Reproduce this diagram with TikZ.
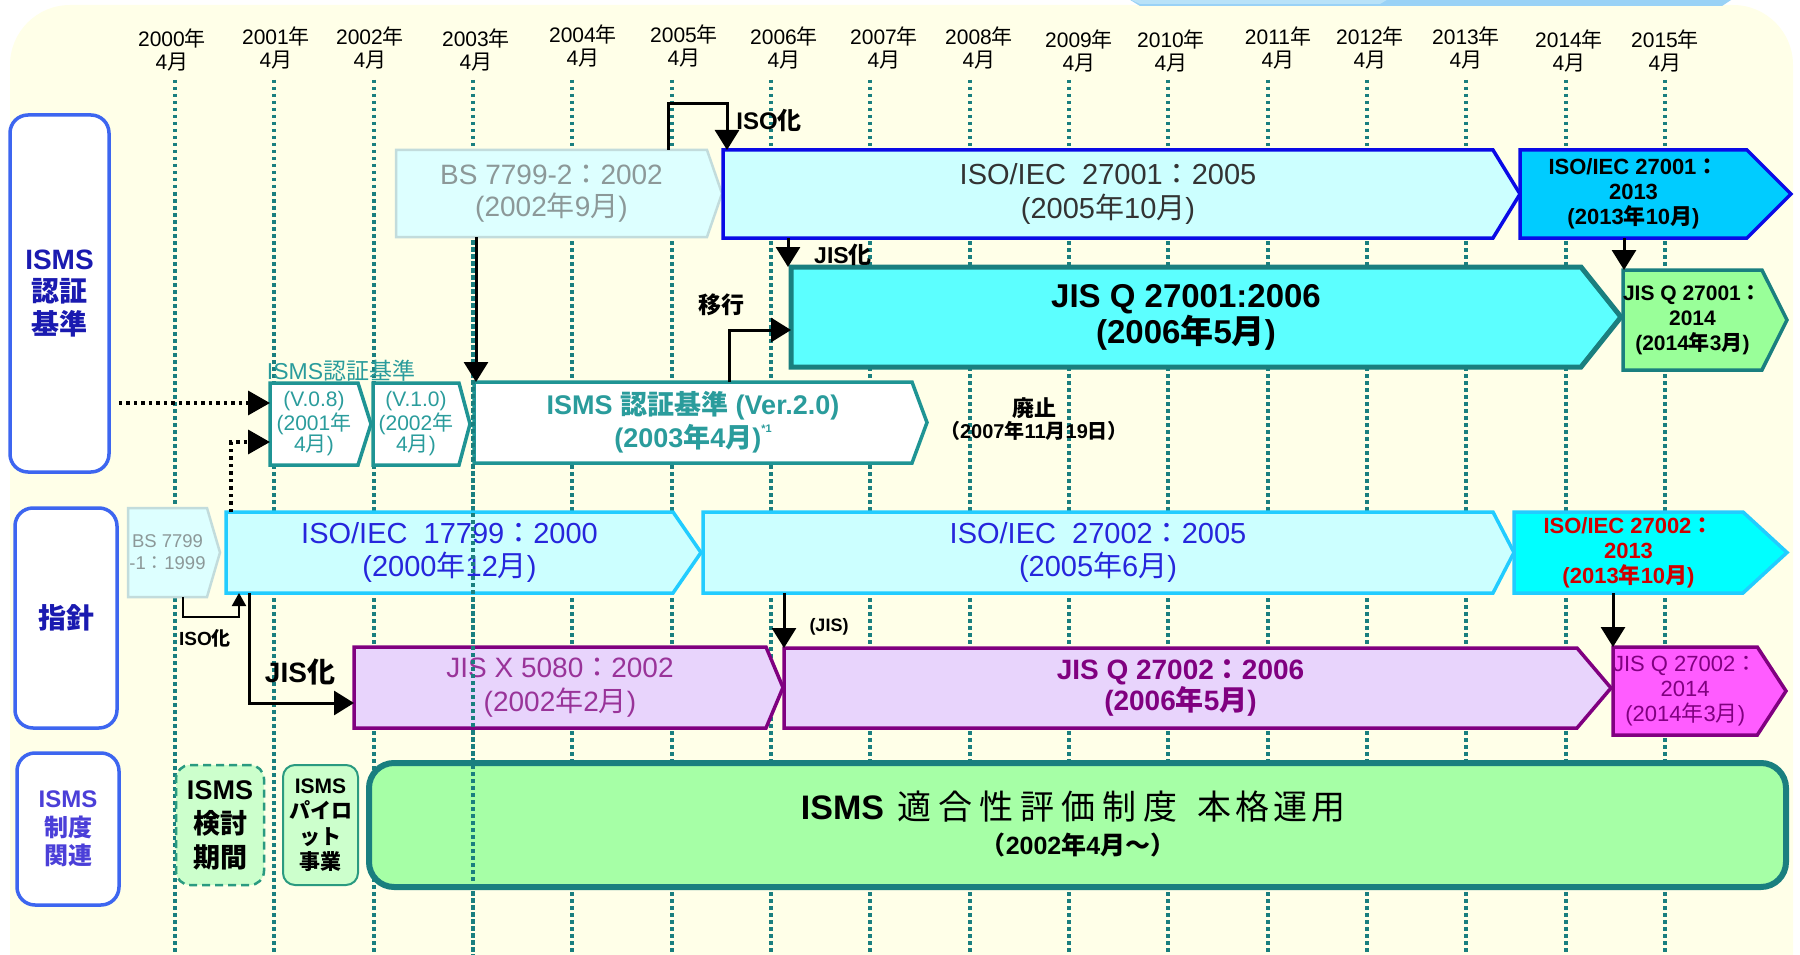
\documentclass[tikz,border=0pt]{standalone}
\usepackage{fontspec}
\setmainfont{Liberation Sans}
\newfontfamily\jpf{Noto Sans CJK JP}
\newcommand\J[1]{{\jpf #1}}
\newcommand\fsz[2]{\fontsize{#1}{#2}\selectfont}
\newcommand\ks[2]{\makebox[#1][c]{\jpf\mdseries #2}}
\usetikzlibrary{arrows.meta}
\pgfdeclarelayer{bgl}
\pgfdeclarelayer{gridl}
\pgfdeclarelayer{shapel}
\pgfsetlayers{bgl,gridl,shapel,main}

\definecolor{bgy}{HTML}{FFFFE8}
\definecolor{gridc}{HTML}{1A7F7F}
\definecolor{catb}{HTML}{3D66F0}
\definecolor{catt}{HTML}{1A1AB0}
\definecolor{catt2}{HTML}{4B3FD8}
\definecolor{bsfill}{HTML}{DDFFFF}
\definecolor{bsdraw}{HTML}{C2DCDC}
\definecolor{bstext}{HTML}{8C9898}
\definecolor{isofill}{HTML}{CCFFFF}
\definecolor{isoblue}{HTML}{0A0AE6}
\definecolor{darktext}{HTML}{333333}
\definecolor{iso13fill}{HTML}{00CCFF}
\definecolor{jisqfill}{HTML}{5CFFFF}
\definecolor{tealb}{HTML}{1A7F7F}
\definecolor{ltgreen}{HTML}{99FF99}
\definecolor{vteal}{HTML}{1F9494}
\definecolor{vtext}{HTML}{2A9C9C}
\definecolor{cyanb}{HTML}{22CCFF}
\definecolor{bluetext}{HTML}{2626DC}
\definecolor{aqua}{HTML}{00FFFF}
\definecolor{redtext}{HTML}{D00000}
\definecolor{lav}{HTML}{E8D4FC}
\definecolor{purp}{HTML}{800080}
\definecolor{purptext}{HTML}{993399}
\definecolor{magfill}{HTML}{FF5CFF}
\definecolor{pgreen}{HTML}{CCFFCC}
\definecolor{dgreen}{HTML}{2A9A80}
\definecolor{bgreen}{HTML}{A6FFA6}
\definecolor{topblue}{HTML}{99D2F6}
\definecolor{topblue2}{HTML}{B8E2F8}

\tikzset{
  gridline/.style={draw=gridc, line width=3.5pt, dash pattern=on 3.5pt off 3.5pt},
  yearlbl/.style={font=\fsz{21}{23}, align=center, inner sep=0pt, text=black},
  catbox/.style={draw=catb, line width=3.5pt, fill=white, rounded corners=18pt, inner sep=0pt, align=center},
  bsshape/.style={fill=bsfill, draw=bsdraw, line width=2.5pt},
  isoshape/.style={fill=isofill, draw=isoblue, line width=3.5pt},
  iso13shape/.style={fill=iso13fill, draw=isoblue, line width=3.5pt},
  jqshape/.style={fill=jisqfill, draw=tealb, line width=5pt},
  jq14shape/.style={fill=ltgreen, draw=tealb, line width=3.5pt},
  vshape/.style={fill=white, draw=vteal, line width=3.5pt},
  cyshape/.style={fill=isofill, draw=cyanb, line width=3.5pt},
  aquashape/.style={fill=aqua, draw=cyanb, line width=3.5pt},
  lavshape/.style={fill=lav, draw=purp, line width=3.5pt},
  magshape/.style={fill=magfill, draw=purp, line width=3.5pt},
  conn/.style={draw=black, line width=3pt, -{Triangle[width=24pt,length=20pt]}},
  connsmall/.style={draw=black, line width=2pt, -{Triangle[width=14pt,length=13pt]}},
  conndot/.style={draw=black, line width=3.5pt, dash pattern=on 3.5pt off 4pt, -{Triangle[width=24pt,length=22pt]}},
  lbl/.style={inner sep=0pt, text=black, font=\bfseries\fsz{23}{23}},
}

% name, left, top, corner x, bottom, tip x, shape style, text style, text
\newcommand\chev[9]{%
  \pgfmathsetmacro\chW{#4-#2}%
  \pgfmathsetmacro\chH{#5-#3}%
  \pgfmathsetmacro\chM{(#3+#5)/2}%
  \node[#8, inner sep=0pt, outer sep=0pt, minimum width=\chW pt, minimum height=\chH pt, anchor=north west, align=center] (#1) at (#2,#3) {#9};
  \begin{pgfonlayer}{shapel}
  \path[#7] (#1.north west) -- (#1.north east) -- (#6,\chM) -- (#1.south east) -- (#1.south west) -- cycle;
  \end{pgfonlayer}%
}

\begin{document}
\begin{tikzpicture}[x=1pt,y=-1pt]
\useasboundingbox (0,0) rectangle (1800,955);
\clip (0,0) rectangle (1800,955);

% background
\begin{pgfonlayer}{bgl}
\fill[white] (0,0) rectangle (1800,955);
\fill[bgy, rounded corners=60pt] (10,1000) -- (10,5) -- (1793,5) -- (1793,1000);
\fill[topblue] (1127,-2) -- (1734,-2) -- (1722,6) -- (1140,6) -- cycle;
\fill[topblue2] (1127,-2) -- (1390,-2) -- (1380,4) -- (1140,4) -- cycle;
\end{pgfonlayer}

% grid lines
\begin{pgfonlayer}{gridl}
\foreach \gx in {175,274,374,473,572,672,771,870,970,1069,1168,1268,1367,1466,1566,1665}
  \draw[gridline] (\gx,80) -- (\gx,955);
\end{pgfonlayer}

% year labels
\foreach \yr/\lx/\ly in {2000/172/38,2001/276/36,2002/370/36,2003/476/38,2004/583/34,2005/684/34,2006/784/36,2007/884/36,2008/979/36,2009/1079/39,2010/1171/39,2011/1278/36,2012/1370/36,2013/1466/36,2014/1569/39,2015/1665/39}
  \node[yearlbl] (y\yr) at (\lx,{\ly+11.5}) {\yr\J{年}\\4\J{月}};

% category boxes
\node[catbox, minimum width=99pt, minimum height=357pt, text=catt, font=\bfseries\fsz{28}{32.5}] (isms1) at (59.5,293.5) {ISMS\\\J{認証}\\\J{基準}};
\node[catbox, minimum width=102pt, minimum height=220pt, text=catt, font=\bfseries\fsz{28}{32}] (shishin) at (66,618) {\J{指針}};
\node[catbox, minimum width=102pt, minimum height=152pt, text=catt2, font=\bfseries\fsz{24}{28.5}] (seido) at (68,829) {ISMS\\\J{制度}\\\J{関連}};

% row: ISO 27001
\chev{bs2}{396}{150}{707}{237}{722}{bsshape}{text=bstext, font=\fsz{28}{32}}{BS 7799-2\J{：}2002\\(2002\J{年}9\J{月})}
\chev{iso05}{723}{150}{1493}{238}{1520}{isoshape}{text=darktext, font=\fsz{29}{34}}{ISO/IEC\ \ 27001\J{：}2005\\(2005\J{年}10\J{月})}
\chev{iso13}{1520}{150}{1747}{238}{1791}{iso13shape}{text=black, font=\bfseries\fsz{22}{25}}{ISO/IEC 27001\J{：}\\2013\\(2013\J{年}10\J{月})}
\chev{jq06}{791}{267}{1581}{367}{1621}{jqshape}{text=black, font=\bfseries\fsz{33}{33}}{JIS Q 27001:2006\\(2006\J{年}5\J{月})}
\chev{jq14}{1623}{270}{1759}{370}{1787}{jq14shape}{text=black, font=\bfseries\fsz{21}{25}}{JIS Q 27001\J{：}\\2014\\(2014\J{年}3\J{月})}

% row: ISMS certification criteria
\chev{v08}{270}{383}{358}{465}{371}{vshape}{text=vtext, font=\fsz{21}{20.5}}{(V.0.8)\\(2001\J{年}\\4\J{月})}
\chev{v10}{373}{383}{459}{465}{470}{vshape}{text=vtext, font=\fsz{21}{20.5}}{(V.1.0)\\(2002\J{年}\\4\J{月})}
\chev{ver2}{474}{382}{912}{463}{927}{vshape}{text=vtext, font=\bfseries\fsz{27}{33}}{ISMS \J{認証基準} (Ver.2.0)\\(2003\J{年}4\J{月})\raisebox{0.55em}{\fsz{11}{11}*1}}
\node[inner sep=0pt, text=vtext, font=\fsz{23}{23}] (critlbl) at (341,371) {ISMS\J{認証基準}};

% row: guidelines
\chev{bs1}{128}{508}{207}{597}{220}{bsshape}{text=bstext, font=\fsz{18.5}{22}}{BS 7799\\-1\J{：}1999}
\chev{i17}{226}{512}{673}{593}{701}{cyshape}{text=bluetext, font=\fsz{29}{33}}{ISO/IEC\ \ 17799\J{：}2000\\(2000\J{年}12\J{月})}
\chev{i27}{703}{512}{1493}{593}{1514}{cyshape}{text=bluetext, font=\fsz{29}{33}}{ISO/IEC\ \ 27002\J{：}2005\\(2005\J{年}6\J{月})}
\chev{i2713}{1514}{512}{1743}{593}{1787}{aquashape}{text=redtext, font=\bfseries\fsz{22}{25}}{ISO/IEC 27002\J{：}\\2013\\(2013\J{年}10\J{月})}

% row: JIS
\chev{jx}{354}{647}{766}{728}{783}{lavshape}{text=purptext, font=\fsz{28}{34}}{JIS X 5080\J{：}2002\\(2002\J{年}2\J{月})}
\chev{jq0206}{784}{648}{1577}{728}{1611}{lavshape}{text=purp, font=\bfseries\fsz{28}{28}}{JIS Q 27002\J{：}2006\\(2006\J{年}5\J{月})}
\chev{jq0214}{1613}{647}{1755}{735}{1786}{magshape}{text=purp, font=\fsz{22}{25}}{JIS Q 27002\J{：}\\2014\\(2014\J{年}3\J{月})}

% row: system related
\node[draw=dgreen, fill=pgreen, line width=2.5pt, dash pattern=on 8pt off 5pt, rounded corners=14pt, minimum width=88pt, minimum height=120pt, inner sep=0pt, align=center, font=\bfseries\fsz{27}{34}] (kento) at (220,825) {ISMS\\\J{検討}\\\J{期間}};
\node[draw=dgreen, fill=pgreen, line width=2pt, rounded corners=12pt, minimum width=75pt, minimum height=120pt, inner sep=0pt, align=center, font=\bfseries\fsz{21}{25.5}] (pilot) at (320.5,825) {ISMS\\\J{パイロ}\\\J{ット}\\\J{事業}};
\node[draw=tealb, fill=bgreen, line width=6pt, rounded corners=25pt, minimum width=1417pt, minimum height=124pt, inner sep=0pt] (honkaku) at (1077.5,825) {};
\node[inner sep=0pt, font=\bfseries\fsz{34}{38}] (hk1) at (1074,807) {ISMS\hspace{10pt}\ks{41pt}{適}\ks{41pt}{合}\ks{41pt}{性}\ks{41pt}{評}\ks{41pt}{価}\ks{41pt}{制}\ks{41pt}{度}\hspace{14pt}\ks{38pt}{本}\ks{38pt}{格}\ks{38pt}{運}\ks{38pt}{用}};
\node[inner sep=0pt, font=\bfseries\fsz{25}{30}] (hk2) at (1078,845) {\J{（}2002\J{年}4\J{月～）}};

% 2003 grid line drawn over shapes
\draw[gridline] (473,240) -- (473,955);

% connectors
\draw[conn] (668,0 |- bs2.north) |- (727,104) -- (727,0 |- iso05.north);
\draw[conn] (788,0 |- iso05.south) -- (788,0 |- jq06.north);
\draw[conn] (1624,0 |- iso13.south) -- (1624,0 |- jq14.north);
\draw[conn] (729,0 |- ver2.north) |- (jq06.west |- 0,330);
\draw[conn] (476,0 |- bs2.south) -- (476,0 |- ver2.north);
\draw[conndot] ([xshift=8pt]isms1.east |- 0,403) -- (v08.west |- 0,403);
\draw[conndot] (231,0 |- i17.north) |- (v08.west |- 0,442);
\draw[connsmall] (183,0 |- bs1.south) |- (239,617) -- (239,0 |- i17.south);
\draw[conn] (249,0 |- i17.south) |- (jx.west |- 0,703);
\draw[conn] (784,0 |- i27.south) -- (784,0 |- jq0206.north);
\draw[conn] (1613,0 |- i2713.south) -- (1613,0 |- jq0214.north);

% connector labels
\node[lbl, font=\bfseries\fsz{24}{24}] (lisoka) at (769,121) {ISO\J{化}};
\node[lbl] (ljiska) at (843,255) {JIS\J{化}};
\node[lbl] (likou) at (721,305) {\J{移行}};
\node[lbl, font=\bfseries\fsz{22}{22}] (lhaishi) at (1034,408) {\J{廃止}};
\node[lbl, font=\bfseries\fsz{20}{20}] (lhaishid) at (1034,431) {\J{（}2007\J{年}11\J{月}19\J{日）}};
\node[lbl, font=\bfseries\fsz{19}{19}] (lisoka2) at (205,638) {ISO\J{化}};
\node[lbl, font=\bfseries\fsz{28}{28}] (ljiska2) at (300,672) {JIS\J{化}};
\node[lbl, font=\bfseries\fsz{18}{18}] (ljis) at (829,627) {(JIS)};
\end{tikzpicture}
\end{document}
